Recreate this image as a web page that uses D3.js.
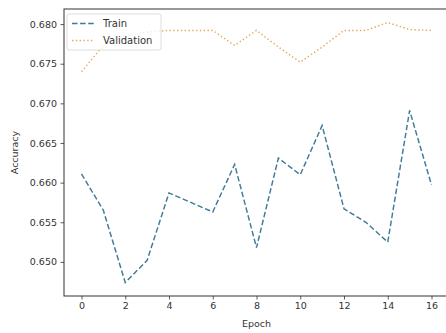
<!DOCTYPE html>
<html>
<head>
<meta charset="utf-8">
<script src="https://cdn.jsdelivr.net/npm/d3@7"></script>
<style>
    html, body { margin: 0; padding: 0; background: #fff; }
    svg { display: block; font-family: 'DejaVu Sans', sans-serif; }
</style>
</head>
<body>
<svg id="chart" width="446" height="333"></svg>
<script>
// epochs along the x axis
const epochs = d3.range(0, 17);

// accuracy per epoch
const trainAcc = [
    0.6611, 0.6565, 0.6474, 0.6502, 0.6587, 0.6575, 0.6563, 0.6623, 0.6518,
    0.6631, 0.6610, 0.6672, 0.6567, 0.6550, 0.6525, 0.6691, 0.6597
];
const validAcc = [
    0.6740, 0.6773, 0.6785, 0.6790, 0.6792, 0.6792, 0.6792, 0.6773, 0.6792,
    0.6771, 0.6752, 0.6771, 0.6792, 0.6792, 0.6802, 0.6793, 0.6792
];

const xTicks = [0, 2, 4, 6, 8, 10, 12, 14, 16];
const yTicks = [0.650, 0.655, 0.660, 0.665, 0.670, 0.675, 0.680];

const seriesNames = ['Train', 'Validation'];

const layout = {
    left: 64,
    right: 449,
    top: 9,
    bottom: 296,
    fontSize: 9.5,
    legendFontSize: 10
};

const svg = d3.select('#chart');

const x = d3.scaleLinear().domain([-0.8, 16.8]).range([layout.left, layout.right]);
const y = d3.scaleLinear().domain([0.6457, 0.6819]).range([layout.bottom, layout.top]);

function drawAxes() {
    const xAxis = svg.append('g')
        .attr('transform', `translate(0, ${layout.bottom})`)
        .call(d3.axisBottom(x).tickValues(xTicks).tickFormat(d3.format('d')).tickSize(3.5).tickPadding(3));

    const yAxis = svg.append('g')
        .attr('transform', `translate(${layout.left}, 0)`)
        .call(d3.axisLeft(y).tickValues(yTicks).tickFormat(d3.format('.3f')).tickSize(3.5).tickPadding(3.5));

    [xAxis, yAxis].forEach((g) => {
        g.select('.domain').remove();
        g.selectAll('line').attr('stroke', '#333').attr('stroke-width', 0.8);
        g.selectAll('text')
            .attr('fill', '#333')
            .style('font-size', `${layout.fontSize}px`)
            .style('font-family', 'DejaVu Sans, sans-serif');
    });

    // frame
    svg.append('rect')
        .attr('x', layout.left)
        .attr('y', layout.top)
        .attr('width', layout.right - layout.left)
        .attr('height', layout.bottom - layout.top)
        .attr('fill', 'none')
        .attr('stroke', '#333')
        .attr('stroke-width', 1);

    svg.append('text')
        .text('Epoch')
        .attr('x', (layout.left + layout.right) / 2)
        .attr('y', 327)
        .attr('text-anchor', 'middle')
        .attr('fill', '#333')
        .style('font-size', `${layout.fontSize}px`);

    svg.append('text')
        .text('Accuracy')
        .attr('transform', `translate(15, ${(layout.top + layout.bottom) / 2}) rotate(-90)`)
        .attr('text-anchor', 'middle')
        .attr('dy', '0.35em')
        .attr('fill', '#333')
        .style('font-size', `${layout.fontSize}px`);
}

const styles = [
    { color: '#3f7a98', dash: '5.5,2.6' },
    { color: '#e3a85e', dash: '1.4,2.4' }
];

function drawLines() {
    const line = d3.line()
        .x((d, i) => x(epochs[i]))
        .y((d) => y(d));

    [trainAcc, validAcc].forEach((series, i) => {
        svg.append('path')
            .datum(series)
            .attr('d', line)
            .attr('fill', 'none')
            .attr('stroke', styles[i].color)
            .attr('stroke-width', 1.45)
            .attr('stroke-dasharray', styles[i].dash);
    });
}

function drawLegend() {
    const g = svg.append('g').attr('transform', 'translate(67, 14)');
    g.append('rect')
        .attr('width', 94)
        .attr('height', 36)
        .attr('rx', 2)
        .attr('fill', '#fff')
        .attr('fill-opacity', 0.8)
        .attr('stroke', '#d6d6d6')
        .attr('stroke-width', 0.8);

    seriesNames.forEach((name, i) => {
        const yy = 9.5 + i * 17;
        g.append('line')
            .attr('x1', 5).attr('x2', 27)
            .attr('y1', yy).attr('y2', yy)
            .attr('stroke', styles[i].color)
            .attr('stroke-width', 1.45)
            .attr('stroke-dasharray', styles[i].dash);
        g.append('text')
            .text(name)
            .attr('x', 36)
            .attr('y', yy)
            .attr('dy', '0.35em')
            .attr('fill', '#333')
            .style('font-size', `${layout.legendFontSize}px`);
    });
}

drawLines();
drawAxes();
drawLegend();
</script>
</body>
</html>
